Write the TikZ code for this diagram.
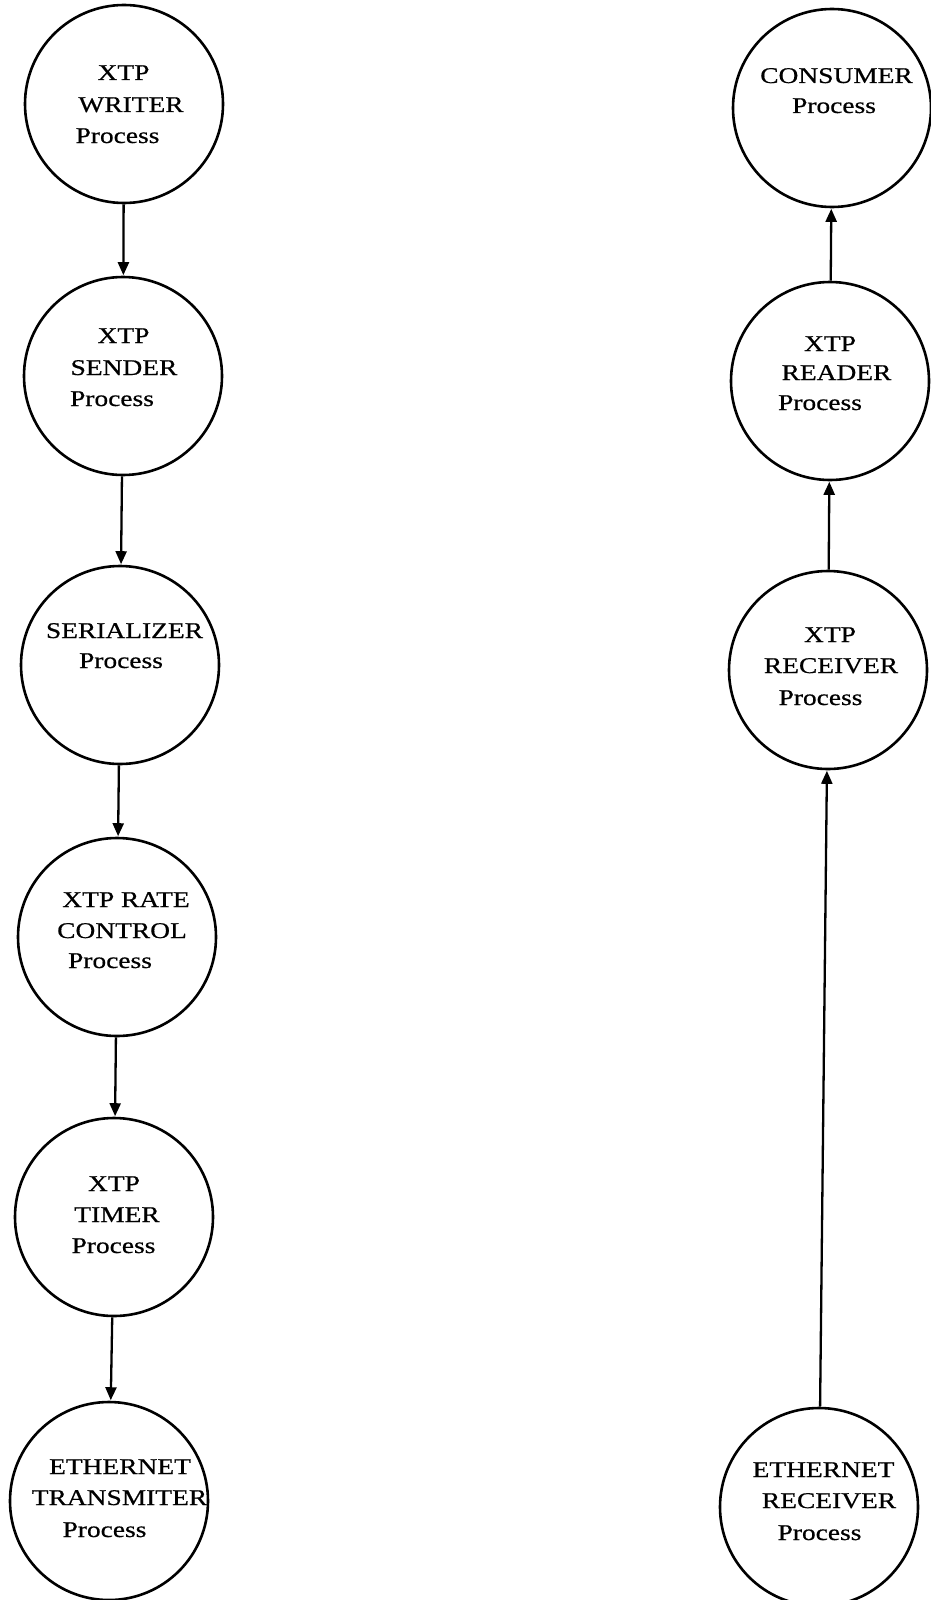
\documentclass[tikz,border=0pt]{standalone}
\usepackage{fontspec}
\setmainfont{Liberation Serif}[FakeStretch=1.22,FakeBold=0.6]
\usetikzlibrary{arrows.meta}
\begin{document}
\begin{tikzpicture}[x=1pt,y=-1pt,
  proc/.style={circle,draw,line width=2.6pt,minimum size=198pt,inner sep=0pt},
  lbl/.style={anchor=base,inner sep=0pt,font=\fontsize{22.5}{26}\selectfont},
  flow/.style={line width=2.3pt,-{Triangle[length=13pt,width=11pt]},shorten >=0.5pt}]
\useasboundingbox (0,0) rectangle (931,1600);
% sending side
\node[proc] (wr) at (124,104) {};
\node[proc] (sd) at (123,376) {};
\node[proc] (sz) at (120,665) {};
\node[proc] (rc) at (117,937) {};
\node[proc] (tm) at (114,1217) {};
\node[proc] (et) at (109,1501) {};
% receiving side
\node[proc] (cs) at (832,108) {};
\node[proc] (rd) at (830,381) {};
\node[proc] (rv) at (828,670) {};
\node[proc] (er) at (819,1507) {};
% labels
\node[lbl] (wr1) at (123.5,80) {XTP};
\node[lbl] (wr2) at (131,112) {WRITER};
\node[lbl] (wr3) at (117.5,143) {Process};
\node[lbl] (sd1) at (123.5,343) {XTP};
\node[lbl] (sd2) at (124,375) {SENDER};
\node[lbl] (sd3) at (112,406) {Process};
\node[lbl] (sz1) at (124.5,638) {SERIALIZER};
\node[lbl] (sz2) at (121,668) {Process};
\node[lbl] (rc1) at (126,907) {XTP RATE};
\node[lbl] (rc2) at (122,938) {CONTROL};
\node[lbl] (rc3) at (110,968) {Process};
\node[lbl] (tm1) at (114,1191) {XTP};
\node[lbl] (tm2) at (117,1222) {TIMER};
\node[lbl] (tm3) at (113.5,1253) {Process};
\node[lbl] (et1) at (120,1474) {ETHERNET};
\node[lbl] (et2) at (119.5,1505) {TRANSMITER};
\node[lbl] (et3) at (104.5,1537) {Process};
\node[lbl] (cs1) at (836.5,83) {CONSUMER};
\node[lbl] (cs2) at (834,113) {Process};
\node[lbl] (rd1) at (830,351) {XTP};
\node[lbl] (rd2) at (836.5,380) {READER};
\node[lbl] (rd3) at (820,410) {Process};
\node[lbl] (rv1) at (830,642) {XTP};
\node[lbl] (rv2) at (831,673) {RECEIVER};
\node[lbl] (rv3) at (820.5,705) {Process};
\node[lbl] (er1) at (823.5,1477) {ETHERNET};
\node[lbl] (er2) at (829,1508) {RECEIVER};
\node[lbl] (er3) at (819.5,1540) {Process};
% connectors
\draw[flow] (wr) -- (sd);
\draw[flow] (sd) -- (sz);
\draw[flow] (sz) -- (rc);
\draw[flow] (rc) -- (tm);
\draw[flow] (tm) -- (et);
\draw[flow] (er) -- (rv);
\draw[flow] (rv) -- (rd);
\draw[flow] (rd) -- (cs);
\end{tikzpicture}
\end{document}
